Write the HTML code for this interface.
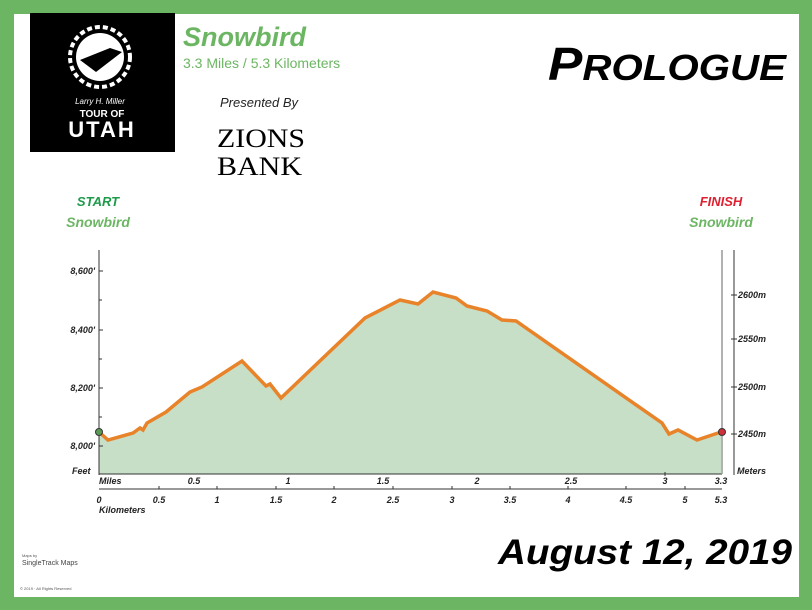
<!DOCTYPE html>
<html><head><meta charset="utf-8"><style>
html,body{margin:0;padding:0;background:#fff}
svg{display:block}
text{font-family:"Liberation Sans",sans-serif}
</style></head><body>
<svg width="812" height="610" viewBox="0 0 812 610" xmlns="http://www.w3.org/2000/svg">
<rect x="0" y="0" width="812" height="610" fill="#6cb663"/>
<rect x="14" y="14" width="785" height="583" fill="#fff"/>
<rect x="30" y="13" width="145" height="139" fill="#000"/>
<circle cx="100" cy="57" r="30" fill="none" stroke="#fff" stroke-width="4" stroke-dasharray="5 3"/>
<circle cx="100" cy="57" r="24" fill="#fff"/>
<polygon points="80,60 110,48 122,52 96,72" fill="#000"/>
<text x="100" y="104" font-size="8" fill="#fff" text-anchor="middle" font-style="italic">Larry H. Miller</text>
<text x="102" y="117" font-size="10" fill="#fff" text-anchor="middle" font-weight="bold">TOUR OF</text>
<text x="102" y="137" font-size="22" fill="#fff" text-anchor="middle" font-weight="bold" letter-spacing="2">UTAH</text>
<text x="183" y="46" font-size="27" font-weight="bold" font-style="italic" fill="#6cb663">Snowbird</text>
<text x="183" y="68" font-size="14" fill="#6cb663">3.3 Miles / 5.3 Kilometers</text>
<text x="220" y="107" font-size="13" font-style="italic" fill="#222">Presented By</text>
<text x="217" y="147" font-size="26" fill="#000" style="font-family:'Liberation Serif',serif" textLength="88" lengthAdjust="spacingAndGlyphs">ZIONS</text>
<text x="217" y="175" font-size="26" fill="#000" style="font-family:'Liberation Serif',serif" textLength="85" lengthAdjust="spacingAndGlyphs">BANK</text>
<text x="548" y="80" font-size="46" font-weight="bold" font-style="italic" fill="#000" textLength="238" lengthAdjust="spacingAndGlyphs">P<tspan font-size="36">ROLOGUE</tspan></text>
<text x="98" y="206" font-size="13" font-weight="bold" font-style="italic" fill="#1e9a4a" text-anchor="middle">START</text>
<text x="98" y="227" font-size="14" font-weight="bold" font-style="italic" fill="#6cb663" text-anchor="middle">Snowbird</text>
<text x="721" y="206" font-size="13" font-weight="bold" font-style="italic" fill="#e02030" text-anchor="middle">FINISH</text>
<text x="721" y="227" font-size="14" font-weight="bold" font-style="italic" fill="#6cb663" text-anchor="middle">Snowbird</text>
<polygon fill="#c8dfc7" points="99,474 99,432 108,440 133,433 140,428 143,430 147,423 166,412 190,392 202,387 242,361 266,386 270,384 281,398 365,318 400,300 418,304 433,292 456,298 467,306 487,311 502,320 516,321 662,423 669,434 678,430 697,440 721,432 721,474"/>
<polyline fill="none" stroke="#e8832a" stroke-width="3.5" points="99,432 108,440 133,433 140,428 143,430 147,423 166,412 190,392 202,387 242,361 266,386 270,384 281,398 365,318 400,300 418,304 433,292 456,298 467,306 487,311 502,320 516,321 662,423 669,434 678,430 697,440 721,432"/>
<line x1="99" y1="250" x2="99" y2="475" stroke="#333" stroke-width="1"/>
<line x1="99" y1="474" x2="722" y2="474" stroke="#333" stroke-width="1"/>
<line x1="722" y1="250" x2="722" y2="474" stroke="#999" stroke-width="1.5"/>
<line x1="734" y1="250" x2="734" y2="475" stroke="#333" stroke-width="1"/>
<g stroke="#333" stroke-width="1">
<line x1="99" y1="271" x2="103" y2="271"/><line x1="99" y1="300" x2="102" y2="300"/><line x1="99" y1="330" x2="103" y2="330"/><line x1="99" y1="359" x2="102" y2="359"/><line x1="99" y1="388" x2="103" y2="388"/><line x1="99" y1="417" x2="102" y2="417"/><line x1="99" y1="446" x2="103" y2="446"/>
<line x1="731" y1="295" x2="737" y2="295"/><line x1="731" y1="339" x2="737" y2="339"/><line x1="731" y1="387" x2="737" y2="387"/><line x1="731" y1="434" x2="737" y2="434"/>
<line x1="99" y1="489" x2="722" y2="489"/>
<line x1="159" y1="486" x2="159" y2="489"/><line x1="217" y1="486" x2="217" y2="489"/><line x1="276" y1="486" x2="276" y2="489"/><line x1="334" y1="486" x2="334" y2="489"/><line x1="393" y1="486" x2="393" y2="489"/><line x1="452" y1="486" x2="452" y2="489"/><line x1="510" y1="486" x2="510" y2="489"/><line x1="568" y1="486" x2="568" y2="489"/><line x1="626" y1="486" x2="626" y2="489"/><line x1="685" y1="486" x2="685" y2="489"/>
<line x1="665" y1="472" x2="665" y2="476"/>
</g>
<g font-size="9" font-weight="bold" font-style="italic" fill="#222">
<text x="95" y="274" text-anchor="end">8,600'</text>
<text x="95" y="333" text-anchor="end">8,400'</text>
<text x="95" y="391" text-anchor="end">8,200'</text>
<text x="95" y="449" text-anchor="end">8,000'</text>
<text x="72" y="474">Feet</text>
<text x="738" y="298">2600m</text><text x="738" y="342">2550m</text><text x="738" y="390">2500m</text><text x="738" y="437">2450m</text>
<text x="737" y="474">Meters</text>
<text x="99" y="484">Miles</text>
<text x="194" y="484" text-anchor="middle">0.5</text><text x="288" y="484" text-anchor="middle">1</text><text x="383" y="484" text-anchor="middle">1.5</text><text x="477" y="484" text-anchor="middle">2</text><text x="571" y="484" text-anchor="middle">2.5</text><text x="665" y="484" text-anchor="middle">3</text><text x="721" y="484" text-anchor="middle">3.3</text>
<text x="99" y="503" text-anchor="middle">0</text><text x="159" y="503" text-anchor="middle">0.5</text><text x="217" y="503" text-anchor="middle">1</text><text x="276" y="503" text-anchor="middle">1.5</text><text x="334" y="503" text-anchor="middle">2</text><text x="393" y="503" text-anchor="middle">2.5</text><text x="452" y="503" text-anchor="middle">3</text><text x="510" y="503" text-anchor="middle">3.5</text><text x="568" y="503" text-anchor="middle">4</text><text x="626" y="503" text-anchor="middle">4.5</text><text x="685" y="503" text-anchor="middle">5</text><text x="721" y="503" text-anchor="middle">5.3</text>
<text x="99" y="513">Kilometers</text>
</g>
<circle cx="99" cy="432" r="3.5" fill="#5a9a55" stroke="#333" stroke-width="1"/>
<circle cx="722" cy="432" r="3.5" fill="#d0303a" stroke="#333" stroke-width="1"/>
<text x="498" y="564" font-size="35" font-weight="bold" font-style="italic" fill="#000" textLength="294" lengthAdjust="spacingAndGlyphs">August 12, 2019</text>
<text x="22" y="557" font-size="4" fill="#555">Maps by</text>
<text x="22" y="565" font-size="7" fill="#444">SingleTrack Maps</text>
<text x="20" y="590" font-size="4" fill="#555">© 2019 · All Rights Reserved</text>
</svg>
</body></html>
